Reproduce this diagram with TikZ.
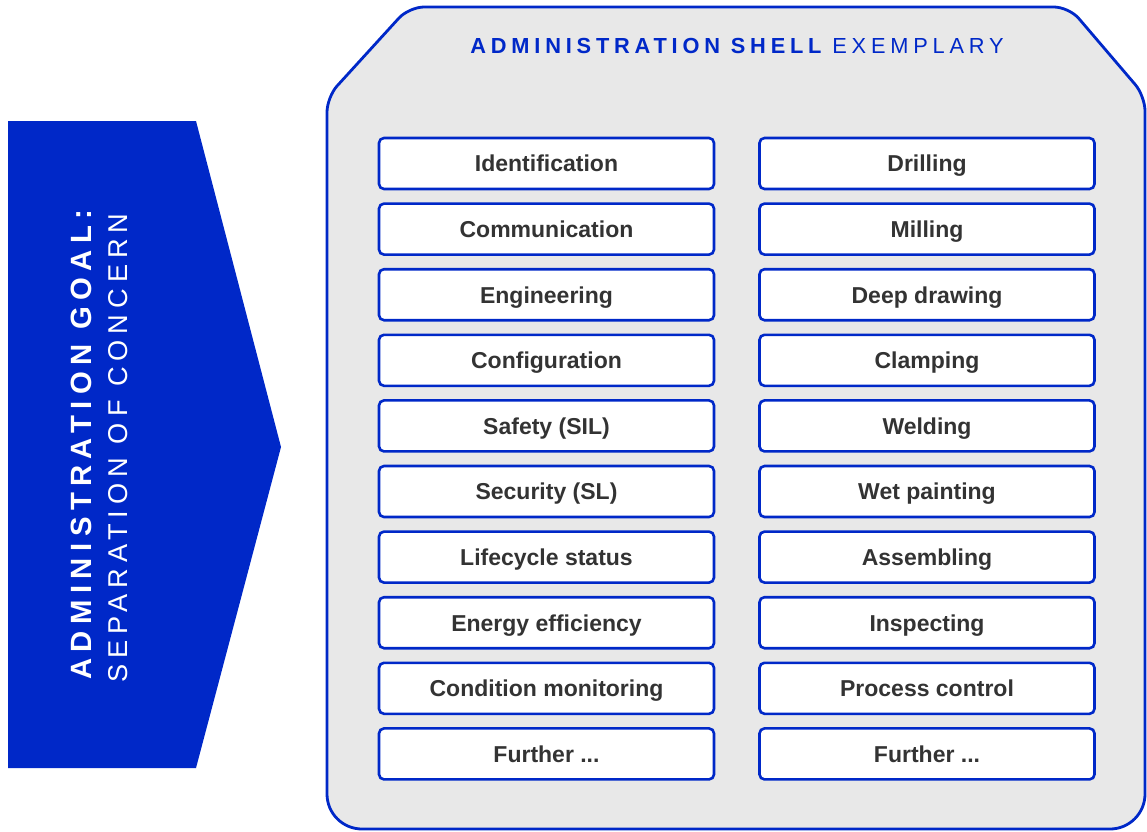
\documentclass[tikz,border=0pt]{standalone}
\usepackage{fontspec}
\setmainfont{Liberation Sans}
\newfontfamily\spacedfont[LetterSpace=22]{Liberation Sans}
\usetikzlibrary{positioning}
\definecolor{shellblue}{RGB}{0,40,200}
\definecolor{shellgray}{RGB}{232,232,232}
\definecolor{labelgray}{RGB}{51,51,51}

\begin{document}
\begin{tikzpicture}[x=1pt, y=-1pt,
      facet/.style={draw=shellblue, line width=2.6pt, rounded corners=5pt, fill=white,
                    minimum width=335pt, minimum height=51pt, inner sep=0pt,
                    text height=16.7pt, text depth=0pt, text=labelgray,
                    font=\bfseries\fontsize{23}{28}\selectfont},
      shell/.style={draw=shellblue, line width=2.8pt, fill=shellgray},
      goaltext/.style={rotate=90, anchor=base west, inner sep=0pt, text=white}]
    \useasboundingbox (0,0) rectangle (1147,831);
    % administration shell outline
    \path[shell] (327,400) [rounded corners=15pt] -- (327,97) -- (409,7) -- (1069,7)
      -- (1145,96) -- (1145,500) [rounded corners=35pt] -- (1145,829) -- (327,829) -- cycle;
    \node[anchor=base, inner sep=0pt, text=shellblue,
          font=\spacedfont\fontsize{21.8}{26}\selectfont] (title) at (737,53)
      {{\bfseries ADMINISTRATION SHELL} EXEMPLARY};
    % goal arrow
    \fill[shellblue] (8,121) -- (196,121) -- (281,447) -- (196,768) -- (8,768) -- cycle;
    \node[goaltext, font=\spacedfont\bfseries\fontsize{29.3}{34}\selectfont] (goal) at (91,680)
      {ADMINISTRATION GOAL:};
    \node[goaltext, font=\spacedfont\fontsize{27.2}{32}\selectfont] (concern) at (127,683)
      {SEPARATION OF CONCERN};
    % left column
    \node[facet] (ident) at (546.5,163.5) {Identification};
    \node[facet, below=12pt of ident] (comm) {Communication};
    \node[facet, below=12pt of comm] (eng) {Engineering};
    \node[facet, below=12pt of eng] (config) {Configuration};
    \node[facet, below=12pt of config] (safety) {Safety (SIL)};
    \node[facet, below=12pt of safety] (security) {Security (SL)};
    \node[facet, below=12pt of security] (lifecycle) {Lifecycle status};
    \node[facet, below=12pt of lifecycle] (energy) {Energy efficiency};
    \node[facet, below=12pt of energy] (condition) {Condition monitoring};
    \node[facet, below=12pt of condition] (furtherL) {Further ...};
    % right column
    \node[facet, right=42.9pt of ident] (drill) {Drilling};
    \node[facet, below=12pt of drill] (mill) {Milling};
    \node[facet, below=12pt of mill] (deepdraw) {Deep drawing};
    \node[facet, below=12pt of deepdraw] (clamp) {Clamping};
    \node[facet, below=12pt of clamp] (weld) {Welding};
    \node[facet, below=12pt of weld] (paint) {Wet painting};
    \node[facet, below=12pt of paint] (assemble) {Assembling};
    \node[facet, below=12pt of assemble] (inspect) {Inspecting};
    \node[facet, below=12pt of inspect] (process) {Process control};
    \node[facet, below=12pt of process] (furtherR) {Further ...};
  \end{tikzpicture}
\end{document}
